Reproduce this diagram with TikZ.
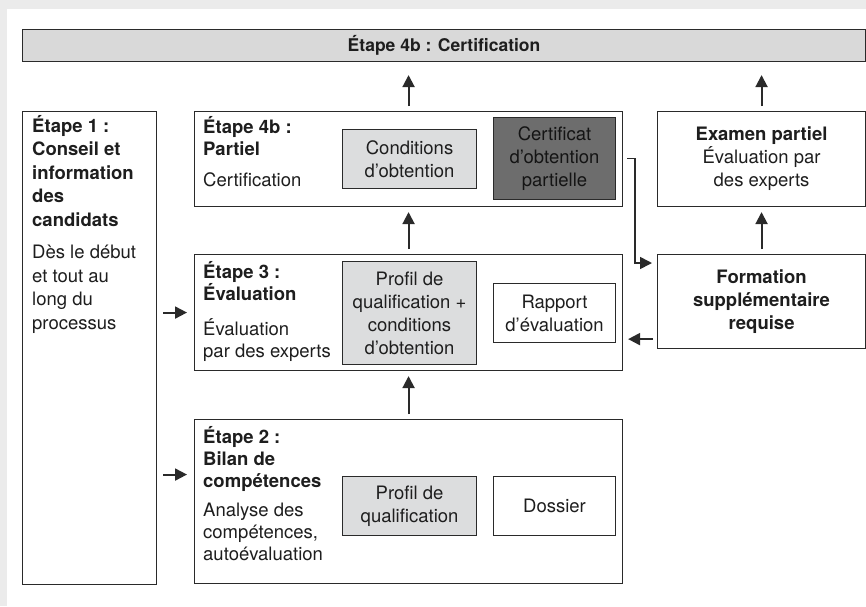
\documentclass[tikz,border=0pt]{standalone}
\usepackage{fontspec}
\setmainfont{TeX Gyre Heros}
\usepackage{tikz}
\usetikzlibrary{calc}
\usetikzlibrary{positioning}
\usetikzlibrary{arrows.meta}
\definecolor{linegray}{HTML}{2A2A2A}
\definecolor{textgray}{HTML}{1E1E1E}
\definecolor{boxgray}{HTML}{DCDDDE}
\definecolor{bargray}{HTML}{D9D9D9}
\definecolor{certgray}{HTML}{6D6D6D}
\definecolor{certtext}{HTML}{141414}
\definecolor{sidegray}{HTML}{EBEBEB}

\begin{document}
\begin{tikzpicture}[x=1pt,y=-1pt]
\tikzstyle{stage}=[rectangle,draw=linegray,line width=1.1pt,anchor=north west,inner sep=0pt,text=textgray]
\tikzstyle{txt}=[anchor=north west,inner sep=0pt,align=left,text=textgray,font={\fontsize{18.5}{22}\selectfont}]
\tikzstyle{item}=[rectangle,draw=linegray,line width=1.1pt,anchor=north west,inner sep=0pt,align=center,text=textgray,font={\fontsize{18.5}{23}\selectfont}]
\tikzstyle{arr}=[-{Triangle[length=12pt,width=12pt]},line width=2pt,draw=linegray,shorten <=5pt,shorten >=5pt]
\useasboundingbox (0,0) rectangle (866,606);
\fill[sidegray] (0,0) rectangle (866,606);
\fill[white] (7,9) rectangle (866,606);

% bandeau du haut
\node[stage,fill=bargray,minimum width=843pt,minimum height=32pt,font={\fontsize{17.5}{20}\selectfont\bfseries}] at (22,29) (top) {Étape 4b : Certification};

% etapes
\node[stage,minimum width=134pt,minimum height=473pt] at (22,111) (s1) {};
\node[stage,minimum width=428pt,minimum height=95pt] at (194,111) (p4b) {};
\node[stage,minimum width=428pt,minimum height=116pt] at (194,254) (s3) {};
\node[stage,minimum width=428pt,minimum height=164pt] at (194,419) (s2) {};
\node[stage,minimum width=208pt,minimum height=95pt,align=center,font={\fontsize{18.5}{23}\selectfont}] at (657,111) (exam) {\textbf{Examen partiel}\\Évaluation par\\des experts};
\node[stage,minimum width=208pt,minimum height=94pt,align=center,font={\fontsize{18.5}{23}\selectfont\bfseries}] at (657,254) (form) {Formation\\supplémentaire\\requise};

% textes des etapes
\node[txt,font={\fontsize{18.5}{23.5}\selectfont}] at (32,115) (s1t) {\textbf{Étape 1 :}\\\textbf{Conseil et}\\\textbf{information}\\\textbf{des}\\\textbf{candidats}\\[9pt]
                         Dès le début\\et tout au\\long du\\processus};
\node[txt] at (203,116) (p4bt) {\textbf{Étape 4b :}\\\textbf{Partiel}\\[9pt]Certification};
\node[txt] at (203,261.5) (s3t) {\textbf{Étape 3 :}\\\textbf{Évaluation}\\[13pt]Évaluation\\par des experts};
\node[txt] at (203,426.5) (s2t) {\textbf{Étape 2 :}\\\textbf{Bilan de}\\\textbf{compétences}\\[7pt]Analyse des\\compétences,\\autoévaluation};

% documents
\node[item,fill=boxgray,minimum width=134pt,minimum height=59pt] at (342,129) (cond) {Conditions\\d’obtention};
\node[item,fill=certgray,text=certtext,minimum width=122pt,minimum height=82pt] at (493,117) (cert) {Certificat\\d’obtention\\partielle};
\node[item,fill=boxgray,minimum width=134pt,minimum height=103pt] at (342,261) (prof3) {Profil de\\qualification +\\conditions\\d’obtention};
\node[item,fill=white,minimum width=122pt,minimum height=59pt] at (493,283) (rapp) {Rapport\\d’évaluation};
\node[item,fill=boxgray,minimum width=134pt,minimum height=59pt] at (342,476) (prof2) {Profil de\\qualification};
\node[item,fill=white,minimum width=122pt,minimum height=59pt] at (493,476) (doss) {Dossier};

% fleches
\draw[arr,shorten >=13pt] (p4b.north) -- (p4b.north |- top.south);
\draw[arr,shorten >=13pt] (exam.north) -- (exam.north |- top.south);
\draw[arr] (s3.north) -- (p4b.south);
\draw[arr] (s2.north) -- (s3.south);
\draw[arr] (form.north) -- (exam.south);
\draw[arr,shorten <=4pt] ([yshift=10pt]form.south west) -- ([yshift=10pt]form.south west -| s3.east);
\draw[arr,line width=1.6pt,shorten <=11pt] (cert.east) -- ++(19,0) |- ([yshift=-9pt]form.north west);
\coordinate (e2) at ([yshift=27pt]s2.west);
\draw[arr,shorten <=6pt,shorten >=7pt] (s3.west -| s1.east) -- (s3.west);
\draw[arr,shorten <=6pt,shorten >=7pt] (e2 -| s1.east) -- (e2);
\end{tikzpicture}
\end{document}
